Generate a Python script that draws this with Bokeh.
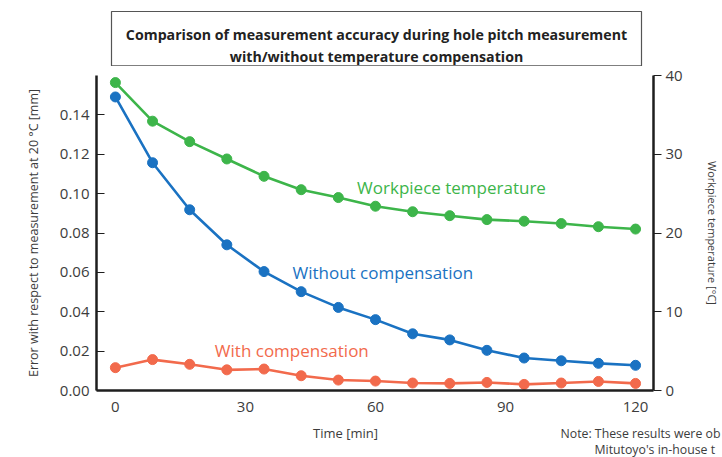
from bokeh.plotting import figure
from bokeh.layouts import column
from bokeh.models import Range1d, LinearAxis, FixedTicker, Label, PrintfTickFormatter
from bokeh.embed import file_html
from bokeh.resources import INLINE

# ---------------- data ----------------
time_min = [0, 8.57, 17.14, 25.71, 34.29, 42.86, 51.43, 60, 68.57, 77.14, 85.71, 94.29, 102.86, 111.43, 120]
error_without = [0.1491, 0.1157, 0.0918, 0.0740, 0.0604, 0.0502, 0.0422, 0.0360, 0.0288, 0.0257, 0.0204, 0.0165, 0.0151, 0.0138, 0.0128]
error_with = [0.0116, 0.0157, 0.0133, 0.0105, 0.0109, 0.0075, 0.0053, 0.0048, 0.0038, 0.0036, 0.0041, 0.0031, 0.0038, 0.0046, 0.0036]
temperature = [39.1, 34.2, 31.6, 29.4, 27.2, 25.5, 24.5, 23.4, 22.7, 22.2, 21.7, 21.5, 21.2, 20.8, 20.5]
x_ticks = [0, 30, 60, 90, 120]
err_ticks = [0.0, 0.02, 0.04, 0.06, 0.08, 0.10, 0.12, 0.14]
temp_ticks = [0, 10, 20, 30, 40]

title_lines = ["Comparison of measurement accuracy during hole pitch measurement",
               "with/without temperature compensation"]
label_temp = "Workpiece temperature"
label_without = "Without compensation"
label_with = "With compensation"
left_label = "Error with respect to measurement at 20 \u00b0C [mm]"
right_label = "Workpiece temperature [\u00b0C]"
x_label = "Time [min]"
note_lines = ["Note: These results were ob", "Mitutoyo's in-house t"]

# ---------------- style ----------------
GREEN = "#3db54a"
BLUE = "#1a72c2"
RED = "#f26a4c"
FONT = "Open Sans"
AX = "#1e1e1e"
TXT = "#3c3c3c"

W = 722
TOP_H, MAIN_H, BOT_H = 66, 359, 32
X0, X1 = -4.36, 124.14
Y0, Y1 = 0.0, 0.16
FL, FR = 96, 656
FT, FB = 75 - TOP_H, 390 - TOP_H  # frame inside main figure


def xd(px):
    return X0 + (px - FL) * (X1 - X0) / (FR - FL)


def yd(py):
    return Y0 + (FB - py) * (Y1 - Y0) / (FB - FT)


def blank(h):
    f = figure(width=W, height=h, output_backend="svg", toolbar_location=None,
               x_range=Range1d(0, W), y_range=Range1d(h, 0),
               x_axis_type=None, y_axis_type=None, frame_align=False,
               min_border=0, min_border_left=0, min_border_right=0,
               min_border_top=0, min_border_bottom=0)
    f.outline_line_color = None
    f.xgrid.visible = False
    f.ygrid.visible = False
    f.background_fill_color = "white"
    f.border_fill_color = "white"
    return f


# ---------------- title panel ----------------
top = blank(TOP_H)
top.quad(left=[111], right=[641], top=[11], bottom=[65.3], fill_color="white",
         line_color="#555555", line_width=1.2)
for txt, py in [(title_lines[0], 34), (title_lines[1], 56)]:
    top.add_layout(Label(x=376, y=py, text=txt, text_font=FONT, text_font_size="14.2px",
                         text_font_style="bold", text_color="#222222", text_align="center",
                         text_baseline="alphabetic"))

# ---------------- main chart ----------------
p = figure(width=W, height=MAIN_H, output_backend="svg", toolbar_location=None,
           x_range=Range1d(X0, X1), y_range=Range1d(Y0, Y1), frame_align=False,
           min_border_left=FL, min_border_right=W - FR,
           min_border_top=FT, min_border_bottom=MAIN_H - FB)
p.extra_y_ranges = {"temp": Range1d(0, 40)}
p.outline_line_color = None
p.xgrid.visible = False
p.ygrid.visible = False
p.background_fill_color = "white"
p.border_fill_color = "white"

xa = p.xaxis[0]
xa.ticker = FixedTicker(ticks=x_ticks)
xa.major_tick_in = 0
xa.major_tick_out = 0
xa.minor_tick_line_color = None
xa.axis_line_width = 2.5
xa.axis_line_color = AX
xa.major_label_text_font = FONT
xa.major_label_text_font_size = "15px"
xa.major_label_text_color = TXT
xa.major_label_standoff = 11

ya = p.yaxis[0]
ya.ticker = FixedTicker(ticks=err_ticks)
ya.formatter = PrintfTickFormatter(format="%.2f")
ya.major_tick_in = 8
ya.major_tick_out = 0
ya.major_tick_line_width = 1.2
ya.major_tick_line_color = AX
ya.minor_tick_line_color = None
ya.axis_line_width = 2.5
ya.axis_line_color = AX
ya.major_label_text_font = FONT
ya.major_label_text_font_size = "15px"
ya.major_label_text_color = TXT
ya.major_label_standoff = 7
ya.axis_label = left_label
ya.axis_label_text_font = FONT
ya.axis_label_text_font_size = "12.5px"
ya.axis_label_text_font_style = "normal"
ya.axis_label_text_color = TXT
ya.axis_label_standoff = 15

ra = LinearAxis(y_range_name="temp", ticker=FixedTicker(ticks=temp_ticks))
ra.major_tick_in = 0
ra.major_tick_out = 8
ra.major_tick_line_width = 1.2
ra.major_tick_line_color = AX
ra.minor_tick_line_color = None
ra.axis_line_width = 2.5
ra.axis_line_color = AX
ra.major_label_text_font = FONT
ra.major_label_text_font_size = "15px"
ra.major_label_text_color = TXT
ra.major_label_standoff = 4
ra.axis_label = right_label
ra.axis_label_text_font = FONT
ra.axis_label_text_font_size = "11px"
ra.axis_label_text_font_style = "normal"
ra.axis_label_text_color = TXT
ra.axis_label_standoff = 19
p.add_layout(ra, "right")

p.line(time_min, temperature, y_range_name="temp", line_color=GREEN, line_width=2.6)
p.scatter(time_min, temperature, y_range_name="temp", size=10, fill_color=GREEN, line_color=GREEN)
p.line(time_min, error_without, line_color=BLUE, line_width=2.6)
p.scatter(time_min, error_without, size=10, fill_color=BLUE, line_color=BLUE)
p.line(time_min, error_with, line_color=RED, line_width=2.6)
p.scatter(time_min, error_with, size=10, fill_color=RED, line_color=RED)

for txt, px, py, col in [(label_temp, 358, 187, GREEN), (label_without, 293, 272, BLUE), (label_with, 215, 349.5, RED)]:
    p.add_layout(Label(x=xd(px), y=yd(py - TOP_H), text=txt, text_font=FONT, text_font_size="17px",
                       text_color=col, text_align="left", text_baseline="alphabetic"))

# ---------------- bottom texts ----------------
bot = blank(BOT_H)
off = TOP_H + MAIN_H
bot.add_layout(Label(x=345, y=432 - off, text=x_label, text_font=FONT, text_font_size="13px",
                     text_color=TXT, text_align="center", text_baseline="middle"))
bot.add_layout(Label(x=560, y=433 - off, text=note_lines[0], text_font=FONT, text_font_size="12.3px",
                     text_color=TXT, text_align="left", text_baseline="middle"))
bot.add_layout(Label(x=594, y=449 - off, text=note_lines[1], text_font=FONT, text_font_size="12.3px",
                     text_color=TXT, text_align="left", text_baseline="middle"))

layout = column(top, p, bot, spacing=0)
open("out.html", "w").write(file_html(layout, INLINE))
